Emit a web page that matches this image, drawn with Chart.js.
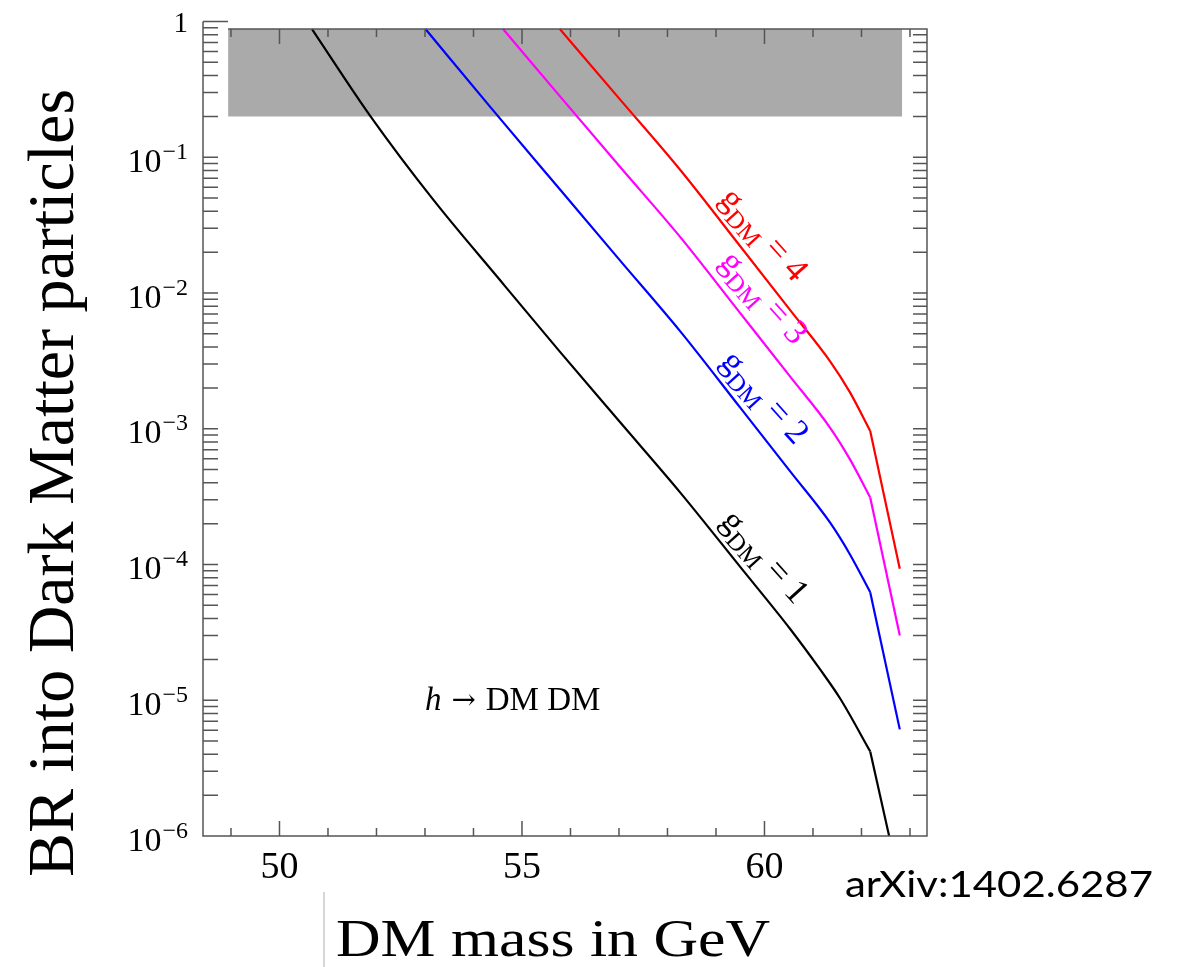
<!DOCTYPE html>
<html>
<head>
<meta charset="utf-8">
<script src="https://cdn.jsdelivr.net/npm/chart.js@4.4.1/dist/chart.umd.min.js"></script>
<style>
    html, body { margin: 0; padding: 0; background: #fff; }
    #contenedor { width: 1184px; height: 967px; }
</style>
</head>
<body>
<div id="contenedor"><canvas id="grafico"></canvas></div>
<script>
// DATA (mass in GeV, branching ratio)
const massG1 = [50.67, 51.87, 53.17, 54.55, 55.78, 57.02, 58.26, 59.50, 60.53, 61.14, 61.56, 62.18, 62.57];
const brG1 = [0.88, 0.202, 0.0487, 0.0124, 0.0037, 0.00112, 3.4e-4, 9.6e-5, 3.35e-5, 1.7e-5, 1.03e-5, 4.2e-6, 1.0e-6];
const massG2 = [53.01, 54.34, 55.78, 57.02, 58.26, 59.50, 60.53, 61.35, 61.76, 62.18, 62.79];
const brG2 = [0.88, 0.236, 0.0581, 0.0174, 0.00524, 0.00143, 4.85e-4, 2.04e-4, 1.19e-4, 6.25e-5, 6.1e-6];
const massG3 = [54.61, 55.78, 57.02, 58.26, 59.50, 60.53, 61.35, 61.76, 62.18, 62.79];
const brG3 = [0.88, 0.282, 0.085, 0.0259, 0.0071, 0.00242, 0.00102, 5.97e-4, 3.12e-4, 3.0e-5];
const massG4 = [55.78, 57.02, 58.26, 59.50, 60.53, 61.35, 61.76, 62.18, 62.79];
const brG4 = [0.88, 0.267, 0.0809, 0.0221, 0.00748, 0.00315, 0.00186, 9.63e-4, 9.3e-5];
// all curves bend sharply at this mass
const kinkMass = 62.18;

// excluded band (gray box)
const excludedMass = [48.94, 62.84];
const excludedBr = [0.2, 0.88];

// axes
const xMinorTicks = [49, 50, 51, 52, 53, 54, 55, 56, 57, 58, 59, 60, 61, 62, 63];
const xLabelTicks = [50, 55, 60];
const yDecades = [1, 1e-1, 1e-2, 1e-3, 1e-4, 1e-5, 1e-6];
const yTickBase = ['1', '10', '10', '10', '10', '10', '10'];
const yTickSup = ['', '\u22121', '\u22122', '\u22123', '\u22124', '\u22125', '\u22126'];

// curve labels
const curveValues = ['4', '3', '2', '1'];
const curveColors = ['#ff0000', '#ff00ff', '#0000ff', '#000000'];
const labelMass = [59.95, 59.95, 59.97, 59.97];
const labelBr = [0.0262, 0.0090, 0.00166, 1.11e-4];

function cargarGrafico() {
    let ctxGrafico = document.getElementById("grafico");
    let serif = "'Liberation Serif', 'Times New Roman', serif";

    let marco = {
        id: 'marco',
        afterDatasetsDraw(chart) {
            let ctx = chart.ctx;
            let area = chart.chartArea;
            let x = chart.scales.x;
            let y = chart.scales.y;
            let yTop = y.getPixelForValue(excludedBr[1]);
            let xLeft = x.getPixelForValue(excludedMass[0]);
            ctx.save();
            // FRAME
            ctx.strokeStyle = '#555';
            ctx.lineWidth = 1.5;
            ctx.beginPath();
            ctx.moveTo(area.left, y.getPixelForValue(1));
            ctx.lineTo(area.left, area.bottom);
            ctx.lineTo(area.right, area.bottom);
            ctx.lineTo(area.right, yTop);
            ctx.lineTo(xLeft, yTop);
            xMinorTicks.forEach(v => {
                let px = x.getPixelForValue(v);
                let len = xLabelTicks.includes(v) ? 15 : 8;
                ctx.moveTo(px, area.bottom);
                ctx.lineTo(px, area.bottom - len);
                ctx.moveTo(px, yTop);
                ctx.lineTo(px, yTop + len);
            });
            let yMinor = [1];
            for (let k = 1; k <= 6; k++) {
                for (let m = 1; m <= 9; m++) yMinor.push(m * Math.pow(10, -k));
            }
            yMinor.forEach(v => {
                let py = y.getPixelForValue(v);
                let len = v === 1 ? 25 : 15;
                ctx.moveTo(area.left, py);
                ctx.lineTo(area.left + len, py);
                if (v <= excludedBr[1]) {
                    ctx.moveTo(area.right, py);
                    ctx.lineTo(area.right - 14, py);
                }
            });
            ctx.stroke();

            // Y TICK LABELS
            ctx.fillStyle = '#000';
            ctx.textAlign = 'right';
            ctx.textBaseline = 'alphabetic';
            yDecades.forEach((v, i) => {
                let py = y.getPixelForValue(v);
                let right = area.left - 15;
                if (!yTickSup[i]) {
                    ctx.font = '29px ' + serif;
                    ctx.fillText(yTickBase[i], right, py + 10);
                    return;
                }
                ctx.font = '24px ' + serif;
                let supW = ctx.measureText(yTickSup[i]).width;
                ctx.fillText(yTickSup[i], right, py + 1.5);
                ctx.font = '34px ' + serif;
                ctx.fillText(yTickBase[i], right - supW - 1, py + 14.5);
            });

            // CURVE LABELS
            curveValues.forEach((g, i) => {
                ctx.save();
                ctx.translate(x.getPixelForValue(labelMass[i]), y.getPixelForValue(labelBr[i]));
                ctx.rotate(48 * Math.PI / 180);
                ctx.fillStyle = curveColors[i];
                ctx.textAlign = 'left';
                ctx.font = '35px ' + serif;
                let wG = ctx.measureText('g').width;
                let wEq = ctx.measureText(' = ' + g).width;
                ctx.font = '25px ' + serif;
                let wSub = ctx.measureText('DM').width;
                let start = -(wG + wSub + wEq) / 2;
                ctx.font = '35px ' + serif;
                ctx.fillText('g', start, 8);
                ctx.font = '25px ' + serif;
                ctx.fillText('DM', start + wG, 17);
                ctx.font = '35px ' + serif;
                ctx.fillText(' = ' + g, start + wG + wSub, 8);
                ctx.restore();
            });

            // PROCESS LABEL
            let hx = x.getPixelForValue(53.0);
            let hy = y.getPixelForValue(8.5e-6);
            ctx.textAlign = 'left';
            ctx.font = 'italic 33px ' + serif;
            ctx.fillText('h', hx, hy);
            let cursor = hx + ctx.measureText('h').width + 10;
            ctx.font = "29px 'DejaVu Serif', serif";
            ctx.fillText('\u2192', cursor, hy - 1);
            cursor += ctx.measureText('\u2192').width + 10;
            ctx.font = '33px ' + serif;
            ctx.fillText('DM DM', cursor, hy);

            // AXIS TITLES
            ctx.save();
            ctx.font = '52px ' + serif;
            let tituloX = 'DM mass in GeV';
            ctx.translate(336, 956);
            ctx.scale(434 / ctx.measureText(tituloX).width, 1);
            ctx.fillText(tituloX, 0, 0);
            ctx.restore();

            ctx.save();
            ctx.font = '66px ' + serif;
            ctx.translate(73, 483);
            ctx.rotate(-Math.PI / 2);
            ctx.textAlign = 'center';
            ctx.fillText('BR into Dark Matter particles', 0, 0);
            ctx.restore();

            // SOURCE
            ctx.save();
            ctx.font = "37px Lato, 'Open Sans', sans-serif";
            let fuente = 'arXiv:1402.6287';
            ctx.translate(845, 897);
            ctx.scale(308 / ctx.measureText(fuente).width, 1);
            ctx.fillText(fuente, 0, 0);
            ctx.restore();

            ctx.strokeStyle = '#c8c8c8';
            ctx.lineWidth = 1.5;
            ctx.beginPath();
            ctx.moveTo(324, 892);
            ctx.lineTo(324, 967);
            ctx.stroke();
            ctx.restore();
        }
    };

    // smooth part up to the kink, straight segment after it
    let curveParts = (masses, brs, color) => {
        let puntos = masses.map((v, i) => ({ x: v, y: brs[i] }));
        let base = {
            borderColor: color,
            backgroundColor: color,
            borderWidth: 2.2,
            pointRadius: 0,
            fill: false
        };
        return [
            Object.assign({ data: puntos.filter(p => p.x <= kinkMass), cubicInterpolationMode: 'monotone' }, base),
            Object.assign({ data: puntos.filter(p => p.x >= kinkMass), tension: 0 }, base)
        ];
    };

    let miGrafico = new Chart(ctxGrafico.getContext('2d'), {
        type: 'line',
        data: {
            datasets: [].concat(
                curveParts(massG4, brG4, curveColors[0]),
                curveParts(massG3, brG3, curveColors[1]),
                curveParts(massG2, brG2, curveColors[2]),
                curveParts(massG1, brG1, curveColors[3]),
                [{
                    label: 'excluded',
                    data: [{ x: excludedMass[0], y: excludedBr[1] }, { x: excludedMass[1], y: excludedBr[1] }],
                    borderWidth: 0,
                    pointRadius: 0,
                    backgroundColor: '#aaaaaa',
                    fill: { value: excludedBr[0] }
                }]
            )
        },
        options: {
            responsive: true,
            maintainAspectRatio: false,
            animation: false,
            events: [],
            layout: { padding: { top: 21.5, right: 257, left: 0, bottom: 0 } },
            plugins: {
                legend: { display: false },
                tooltip: { enabled: false }
            },
            scales: {
                x: {
                    type: 'linear',
                    min: 48.423,
                    max: 63.351,
                    grid: { display: false, drawTicks: false },
                    border: { display: false },
                    afterBuildTicks: (s) => { s.ticks = xLabelTicks.map(v => ({ value: v })); },
                    ticks: {
                        font: { family: serif, size: 38 },
                        color: '#000',
                        padding: 9,
                        maxRotation: 0,
                        autoSkip: false
                    },
                    afterFit: (s) => { s.height = 131; }
                },
                y: {
                    type: 'logarithmic',
                    min: 1e-6,
                    max: 1,
                    grid: { display: false, drawTicks: false },
                    border: { display: false },
                    ticks: { display: false },
                    afterFit: (s) => { s.width = 203; }
                }
            }
        },
        plugins: [marco]
    });
}
window.addEventListener("DOMContentLoaded", cargarGrafico);
</script>
</body>
</html>
